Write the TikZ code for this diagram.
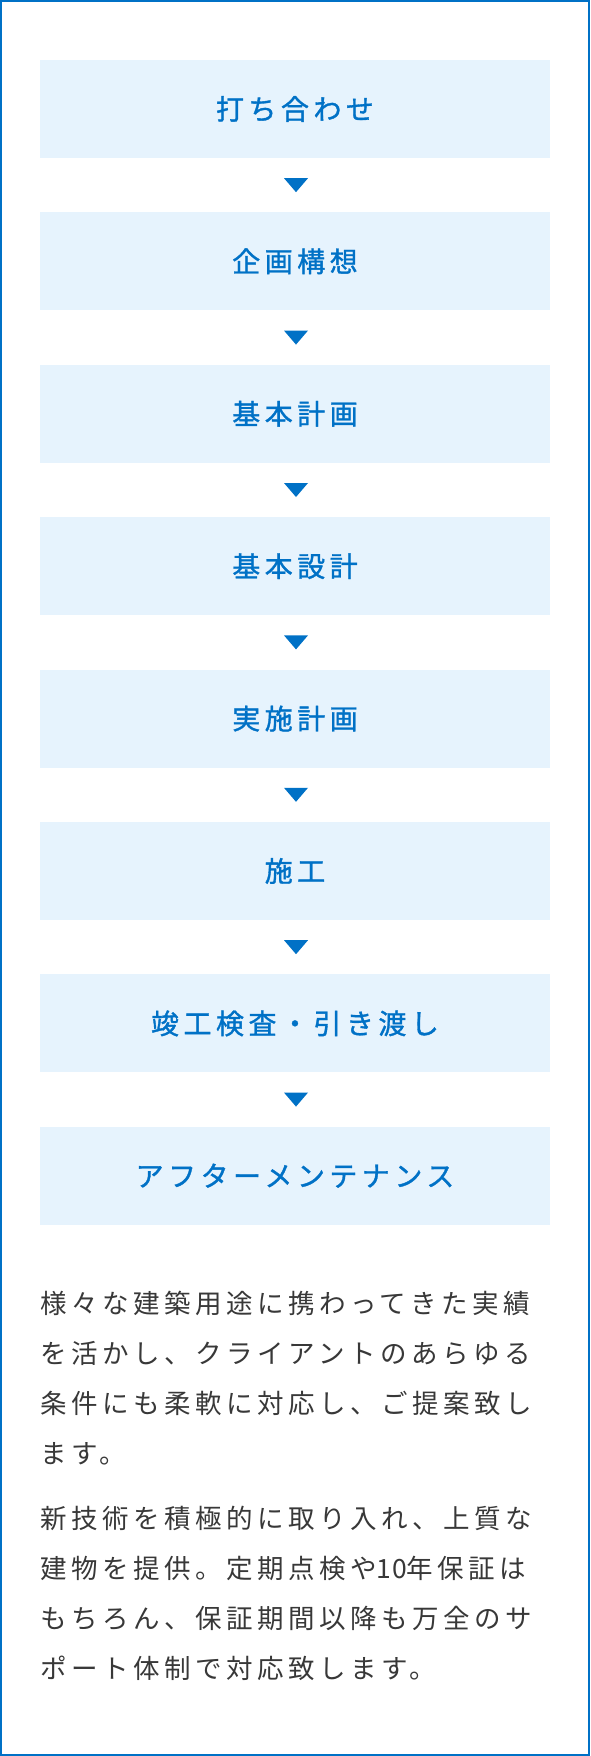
\documentclass[tikz,border=0pt]{standalone}
\usepackage{fontspec}
\usetikzlibrary{positioning,calc}

\newfontfamily\stepfont[LetterSpace=16,FakeBold=1.2]{Noto Sans CJK JP}
\newfontfamily\bodyfont[LetterSpace=17]{Noto Sans CJK JP}

\definecolor{flowblue}{HTML}{0071C6}
\definecolor{boxblue}{HTML}{E6F3FD}
\definecolor{bodygray}{HTML}{383838}

\tikzset{
  stepbox/.style={fill=boxblue, text=flowblue, minimum width=510pt, minimum height=98pt,
    inner sep=0pt, font=\stepfont\fontsize{28}{28}\selectfont,
    text height=23.2pt, text depth=2pt},
  bodyline/.style={anchor=west, inner sep=0pt, text=bodygray,
    font=\bodyfont\fontsize{26.5}{26.5}\selectfont,
    text height=22pt, text depth=1.9pt},
  downmark/.style={fill=flowblue}
}

\begin{document}
\begin{tikzpicture}[x=1pt,y=-1pt]
  \useasboundingbox (0,0) rectangle (590,1756);
  \draw[flowblue, line width=2pt] (1,1) rectangle (589,1755);

  % fasi del flusso
  \node[stepbox] (mtg) at (295,109) {打ち合わせ};
  \node[stepbox, below=54pt of mtg] (kikaku) {企画構想};
  \node[stepbox, below=54pt of kikaku] (kkeikaku) {基本計画};
  \node[stepbox, below=54pt of kkeikaku] (ksekkei) {基本設計};
  \node[stepbox, below=54pt of ksekkei] (jkeikaku) {実施計画};
  \node[stepbox, below=54pt of jkeikaku] (sekou) {施工};
  \node[stepbox, below=54pt of sekou] (kensa) {竣工検査・引き渡し};
  \node[stepbox, below=54pt of kensa] (after) {アフターメンテナンス};

  % triangoli
  \fill[downmark] ($(mtg.south)!0.5!(kikaku.north)$) ++(-11,-7) -- ++(24,0) -- ++(-12,14) -- cycle;
  \fill[downmark] ($(kikaku.south)!0.5!(kkeikaku.north)$) ++(-11,-7) -- ++(24,0) -- ++(-12,14) -- cycle;
  \fill[downmark] ($(kkeikaku.south)!0.5!(ksekkei.north)$) ++(-11,-7) -- ++(24,0) -- ++(-12,14) -- cycle;
  \fill[downmark] ($(ksekkei.south)!0.5!(jkeikaku.north)$) ++(-11,-7) -- ++(24,0) -- ++(-12,14) -- cycle;
  \fill[downmark] ($(jkeikaku.south)!0.5!(sekou.north)$) ++(-11,-7) -- ++(24,0) -- ++(-12,14) -- cycle;
  \fill[downmark] ($(sekou.south)!0.5!(kensa.north)$) ++(-11,-7) -- ++(24,0) -- ++(-12,14) -- cycle;
  \fill[downmark] ($(kensa.south)!0.5!(after.north)$) ++(-11,-7) -- ++(24,0) -- ++(-12,14) -- cycle;

  % testo
  \node[bodyline] (pa1) at (40,1303) {様々な建築用途に携わってきた実績};
  \node[bodyline] (pa2) at (40,1353) {を活かし、クライアントのあらゆる};
  \node[bodyline] (pa3) at (40,1403) {条件にも柔軟に対応し、ご提案致し};
  \node[bodyline] (pa4) at (40,1453) {ます。};
  \node[bodyline] (pb1) at (40,1518) {新技術を積極的に取り入れ、上質な};
  \node[bodyline] (pb2) at (40,1568) {建物を提供。定期点検や{\addfontfeature{LetterSpace=3}10}年保証は};
  \node[bodyline] (pb3) at (40,1618) {もちろん、保証期間以降も万全のサ};
  \node[bodyline] (pb4) at (40,1668) {ポート体制で対応致します。};
\end{tikzpicture}
\end{document}
